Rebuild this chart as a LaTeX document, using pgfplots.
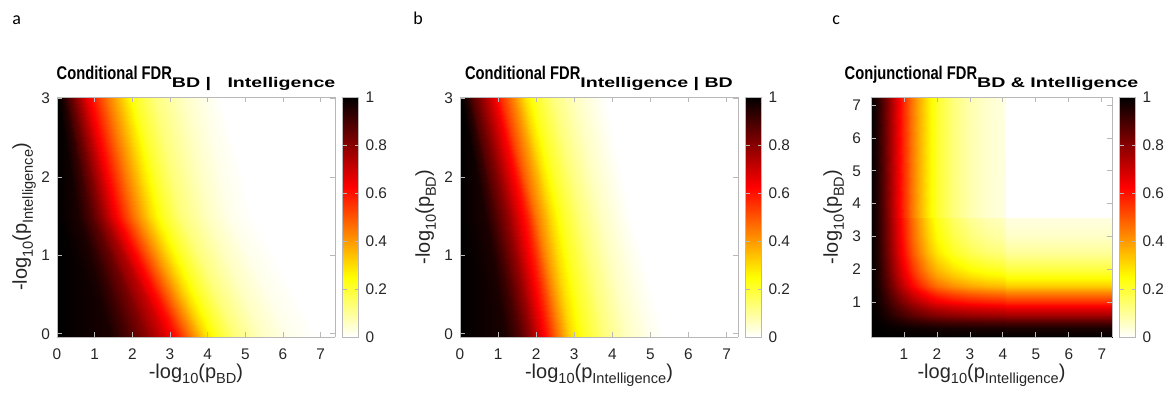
\documentclass[border=0pt]{standalone}
\usepackage{graphicx}
\usepackage{pgfplots}
\pgfplotsset{compat=1.18}
\usepackage{fontspec}
\setmainfont{Liberation Sans}
\newfontfamily\labfont{Carlito}
\definecolor{axgray}{gray}{0.72}
\definecolor{txt}{gray}{0.15}
\newcommand{\sub}[1]{\raisebox{-0.55ex}{\fontsize{7.3}{8}\selectfont #1}}
\newcommand{\tmain}[1]{\scalebox{0.8}[1]{\fontsize{9.2}{10}\selectfont\bfseries #1}}
\newcommand{\tsub}[1]{\raisebox{-0.7ex}{\scalebox{1.4}[1]{\fontsize{7}{8}\selectfont\bfseries #1}}}
\pgfplotsset{
  /pgf/number format/assume math mode=true,
  colormap={hotr}{rgb(0pt)=(1,1,1); rgb(2pt)=(1,1,0); rgb(5pt)=(1,0,0); rgb(8pt)=(0,0,0)},
  panel/.style={
    scale only axis, view={0}{90}, axis on top, hide z axis,
    height=120pt, enlargelimits=false, clip=true,
    axis line style={axgray},
    every tick/.style={axgray, line width=0.4pt},
    tick align=inside, major tick length=2.5pt,
    ticklabel style={font=\fontsize{7.7}{8}\selectfont, text=txt},
    xticklabel style={anchor=base, yshift=-11pt},
    yticklabel style={anchor=east},
    every axis label/.append style={font=\fontsize{10}{11}\selectfont, text=txt},
    every axis title/.style={text=black, anchor=base, at={(axis description cs:0.5,1.071)}},
    point meta min=0, point meta max=1,
    colorbar,
    colorbar style={
      at={(parent axis.north east)}, anchor=north west, xshift=-4.75pt,
      width=8pt, ytick={0,0.2,0.4,0.6,0.8,1},
      axis line style={axgray}, every tick/.style={axgray, line width=0.4pt},
      tick align=inside, major tick length=2pt,
      yticklabel style={font=\fontsize{7.7}{8}\selectfont, text=txt},
    },
  },
}
\begin{document}
\begin{tikzpicture}
\path[use as bounding box] (0pt,0pt) rectangle (584pt,199pt);
\node[anchor=base west, font=\labfont\fontsize{9}{10}\selectfont, inner sep=0pt] at (6pt,187pt) {a};
\node[anchor=base west, font=\labfont\fontsize{9}{10}\selectfont, inner sep=0pt] at (206.5pt,187pt) {b};
\node[anchor=base west, font=\labfont\fontsize{9}{10}\selectfont, inner sep=0pt] at (416pt,187pt) {c};

% ---------- panel a ----------
\begin{axis}[panel, at={(28.5pt,30.5pt)}, anchor=south west, width=139pt,
  xmin=0, xmax=7.38, ymin=-0.04, ymax=3.02,
  xtick={0,1,2,3,4,5,6,7}, ytick={0,1,2,3},
  title={\tmain{Conditional FDR}\tsub{BD\ \textbar\ \ \ Intelligence}},
  xlabel={-log\sub{10}(p\sub{BD})},
  ylabel={-log\sub{10}(p\sub{Intelligence})},
  every axis x label/.style={at={(axis description cs:0.5,-0.171)}, anchor=base},
  every axis y label/.style={at={(axis description cs:-0.108,0.5)}, rotate=90, anchor=base},
]
\addplot3[surf, shader=interp, mesh/rows=3, mesh/cols=14] coordinates {
(0,-0.1,1) (1.5,-0.1,0.96) (2.0,-0.1,0.88) (2.5,-0.1,0.78) (3.0,-0.1,0.66) (3.3,-0.1,0.58) (3.6,-0.1,0.45) (4.0,-0.1,0.30) (4.3,-0.1,0.22) (4.8,-0.1,0.13) (5.5,-0.1,0.06) (6.2,-0.1,0.02) (7.0,-0.1,0) (7.5,-0.1,0)
(0,1.5,1) (0.55,1.5,0.96) (0.9,1.5,0.88) (1.2,1.5,0.78) (1.5,1.5,0.66) (1.7,1.5,0.58) (2.05,1.5,0.45) (2.5,1.5,0.30) (2.8,1.5,0.22) (3.3,1.5,0.13) (4.0,1.5,0.06) (4.6,1.5,0.02) (5.2,1.5,0) (7.5,1.5,0)
(0,3.1,1) (0.12,3.1,0.96) (0.3,3.1,0.88) (0.5,3.1,0.78) (0.75,3.1,0.66) (0.95,3.1,0.58) (1.3,3.1,0.45) (1.75,3.1,0.30) (2.0,3.1,0.22) (2.55,3.1,0.13) (3.3,3.1,0.06) (3.9,3.1,0.02) (4.3,3.1,0) (7.5,3.1,0)
};
\end{axis}

% ---------- panel b ----------
\begin{axis}[panel, at={(230pt,30.5pt)}, anchor=south west, width=139pt,
  xmin=0, xmax=7.3, ymin=-0.04, ymax=3.02,
  xtick={0,1,2,3,4,5,6,7}, ytick={0,1,2,3},
  title={\tmain{Conditional FDR}\tsub{Intelligence\ \textbar\ BD}},
  xlabel={-log\sub{10}(p\sub{Intelligence})},
  ylabel={-log\sub{10}(p\sub{BD})},
  every axis x label/.style={at={(axis description cs:0.5,-0.171)}, anchor=base},
  every axis y label/.style={at={(axis description cs:-0.108,0.5)}, rotate=90, anchor=base},
]
\addplot3[surf, shader=interp, mesh/rows=3, mesh/cols=14] coordinates {
(0,-0.1,1) (1.2,-0.1,0.96) (1.6,-0.1,0.88) (1.9,-0.1,0.78) (2.15,-0.1,0.66) (2.35,-0.1,0.58) (2.6,-0.1,0.45) (2.95,-0.1,0.30) (3.25,-0.1,0.22) (3.8,-0.1,0.13) (4.4,-0.1,0.06) (5.0,-0.1,0.02) (5.4,-0.1,0) (7.5,-0.1,0)
(0,1.5,1) (0.66,1.5,0.96) (0.95,1.5,0.88) (1.25,1.5,0.78) (1.55,1.5,0.66) (1.75,1.5,0.58) (2.0,1.5,0.45) (2.4,1.5,0.30) (2.65,1.5,0.22) (3.15,1.5,0.13) (3.7,1.5,0.06) (4.2,1.5,0.02) (4.5,1.5,0) (7.5,1.5,0)
(0,3.1,1) (0.12,3.1,0.96) (0.3,3.1,0.88) (0.55,3.1,0.78) (0.85,3.1,0.66) (1.0,3.1,0.58) (1.3,3.1,0.45) (1.65,3.1,0.30) (1.9,3.1,0.22) (2.4,3.1,0.13) (3.0,3.1,0.06) (3.5,3.1,0.02) (3.8,3.1,0) (7.5,3.1,0)
};
\end{axis}

% ---------- panel c ----------
\begin{axis}[panel, at={(435.5pt,30.5pt)}, anchor=south west, width=120.5pt,
  xmin=0, xmax=7.31, ymin=-0.07, ymax=7.25,
  xtick={1,2,3,4,5,6,7}, ytick={1,2,3,4,5,6,7},
  yticklabel style={xshift=-1.5pt},
  title={\tmain{Conjunctional FDR}\tsub{BD \& Intelligence}},
  xlabel={-log\sub{10}(p\sub{Intelligence})},
  ylabel={-log\sub{10}(p\sub{BD})},
  every axis x label/.style={at={(axis description cs:0.5,-0.171)}, anchor=base},
  every axis y label/.style={at={(axis description cs:-0.137,0.5)}, rotate=90, anchor=base},
]
\addplot3[surf, shader=interp, mesh/rows=16, mesh/cols=16] coordinates {
(0,-0.1,1) (0.2,-0.1,1) (0.4,-0.1,1) (0.6,-0.1,1) (0.8,-0.1,1) (1,-0.1,1) (1.25,-0.1,1) (1.5,-0.1,1) (1.75,-0.1,1) (2,-0.1,1) (2.5,-0.1,1) (3,-0.1,1) (3.5,-0.1,1) (4.05,-0.1,1) (4.1,-0.1,1) (7.4,-0.1,1)
(0,0.2,1) (0.2,0.2,0.998) (0.4,0.2,0.994) (0.6,0.2,0.990) (0.8,0.2,0.986) (1,0.2,0.982) (1.25,0.2,0.978) (1.5,0.2,0.974) (1.75,0.2,0.971) (2,0.2,0.968) (2.5,0.2,0.965) (3,0.2,0.963) (3.5,0.2,0.962) (4.05,0.2,0.961) (4.1,0.2,0.96) (7.4,0.2,0.96)
(0,0.4,1) (0.2,0.4,0.993) (0.4,0.4,0.983) (0.6,0.4,0.971) (0.8,0.4,0.959) (1,0.4,0.947) (1.25,0.4,0.934) (1.5,0.4,0.923) (1.75,0.4,0.912) (2,0.4,0.905) (2.5,0.4,0.896) (3,0.4,0.890) (3.5,0.4,0.886) (4.05,0.4,0.884) (4.1,0.4,0.88) (7.4,0.4,0.88)
(0,0.6,1) (0.2,0.6,0.985) (0.4,0.6,0.966) (0.6,0.6,0.940) (0.8,0.6,0.917) (1,0.6,0.892) (1.25,0.6,0.865) (1.5,0.6,0.843) (1.75,0.6,0.821) (2,0.6,0.805) (2.5,0.6,0.787) (3,0.6,0.775) (3.5,0.6,0.767) (4.05,0.6,0.762) (4.1,0.6,0.755) (7.4,0.6,0.755)
(0,0.8,1) (0.2,0.8,0.980) (0.4,0.8,0.952) (0.6,0.8,0.917) (0.8,0.8,0.884) (1,0.8,0.850) (1.25,0.8,0.813) (1.5,0.8,0.782) (1.75,0.8,0.752) (2,0.8,0.730) (2.5,0.8,0.704) (3,0.8,0.687) (3.5,0.8,0.677) (4.05,0.8,0.670) (4.1,0.8,0.66) (7.4,0.8,0.66)
(0,1,1) (0.2,1,0.974) (0.4,1,0.938) (0.6,1,0.892) (0.8,1,0.850) (1,1,0.806) (1.25,1,0.758) (1.5,1,0.718) (1.75,1,0.679) (2,1,0.650) (2.5,1,0.617) (3,1,0.595) (3.5,1,0.582) (4.05,1,0.573) (4.1,1,0.56) (7.4,1,0.56)
(0,1.25,1) (0.2,1.25,0.967) (0.4,1.25,0.923) (0.6,1.25,0.865) (0.8,1.25,0.813) (1,1.25,0.758) (1.25,1.25,0.698) (1.5,1.25,0.648) (1.75,1.25,0.599) (2,1.25,0.563) (2.5,1.25,0.522) (3,1.25,0.494) (3.5,1.25,0.478) (4.05,1.25,0.467) (4.1,1.25,0.45) (7.4,1.25,0.45)
(0,1.5,1) (0.2,1.5,0.960) (0.4,1.5,0.906) (0.6,1.5,0.835) (0.8,1.5,0.771) (1,1.5,0.703) (1.25,1.5,0.629) (1.5,1.5,0.568) (1.75,1.5,0.507) (2,1.5,0.463) (2.5,1.5,0.413) (3,1.5,0.379) (3.5,1.5,0.359) (4.05,1.5,0.345) (4.1,1.5,0.325) (7.4,1.5,0.325)
(0,1.75,1) (0.2,1.75,0.954) (0.4,1.75,0.894) (0.6,1.75,0.814) (0.8,1.75,0.742) (1,1.75,0.666) (1.25,1.75,0.582) (1.5,1.75,0.514) (1.75,1.75,0.445) (2,1.75,0.396) (2.5,1.75,0.339) (3,1.75,0.301) (3.5,1.75,0.278) (4.05,1.75,0.263) (4.1,1.75,0.24) (7.4,1.75,0.24)
(0,2,1) (0.2,2,0.951) (0.4,2,0.886) (0.6,2,0.800) (0.8,2,0.723) (1,2,0.641) (1.25,2,0.551) (1.5,2,0.478) (1.75,2,0.404) (2,2,0.351) (2.5,2,0.290) (3,2,0.249) (3.5,2,0.225) (4.05,2,0.209) (4.1,2,0.184) (7.4,2,0.184)
(0,2.5,1) (0.2,2.5,0.946) (0.4,2.5,0.874) (0.6,2.5,0.780) (0.8,2.5,0.694) (1,2.5,0.604) (1.25,2.5,0.505) (1.5,2.5,0.424) (1.75,2.5,0.343) (2,2.5,0.285) (2.5,2.5,0.217) (3,2.5,0.172) (3.5,2.5,0.145) (4.05,2.5,0.127) (4.1,2.5,0.1) (7.4,2.5,0.1)
(0,3,1) (0.2,3,0.943) (0.4,3,0.868) (0.6,3,0.769) (0.8,3,0.679) (1,3,0.584) (1.25,3,0.480) (1.5,3,0.395) (1.75,3,0.310) (2,3,0.249) (2.5,3,0.178) (3,3,0.131) (3.5,3,0.102) (4.05,3,0.083) (4.1,3,0.055) (7.4,3,0.055)
(0,3.5,1) (0.2,3.5,0.942) (0.4,3.5,0.865) (0.6,3.5,0.763) (0.8,3.5,0.671) (1,3.5,0.574) (1.25,3.5,0.468) (1.5,3.5,0.381) (1.75,3.5,0.293) (2,3.5,0.230) (2.5,3.5,0.158) (3,3.5,0.109) (3.5,3.5,0.080) (4.05,3.5,0.061) (4.1,3.5,0.032) (7.4,3.5,0.032)
(0,3.55,1) (0.2,3.55,0.942) (0.4,3.55,0.864) (0.6,3.55,0.762) (0.8,3.55,0.670) (1,3.55,0.573) (1.25,3.55,0.467) (1.5,3.55,0.379) (1.75,3.55,0.292) (2,3.55,0.229) (2.5,3.55,0.156) (3,3.55,0.108) (3.5,3.55,0.079) (4.05,3.55,0.059) (4.1,3.55,0.03) (7.4,3.55,0.03)
(0,3.6,1) (0.2,3.6,0.94) (0.4,3.6,0.86) (0.6,3.6,0.755) (0.8,3.6,0.66) (1,3.6,0.56) (1.25,3.6,0.45) (1.5,3.6,0.36) (1.75,3.6,0.27) (2,3.6,0.205) (2.5,3.6,0.13) (3,3.6,0.08) (3.5,3.6,0.05) (4.05,3.6,0.03) (4.1,3.6,0) (7.4,3.6,0)
(0,7.4,1) (0.2,7.4,0.94) (0.4,7.4,0.86) (0.6,7.4,0.755) (0.8,7.4,0.66) (1,7.4,0.56) (1.25,7.4,0.45) (1.5,7.4,0.36) (1.75,7.4,0.27) (2,7.4,0.205) (2.5,7.4,0.13) (3,7.4,0.08) (3.5,7.4,0.05) (4.05,7.4,0.03) (4.1,7.4,0) (7.4,7.4,0)
};
\end{axis}
\end{tikzpicture}
\end{document}
